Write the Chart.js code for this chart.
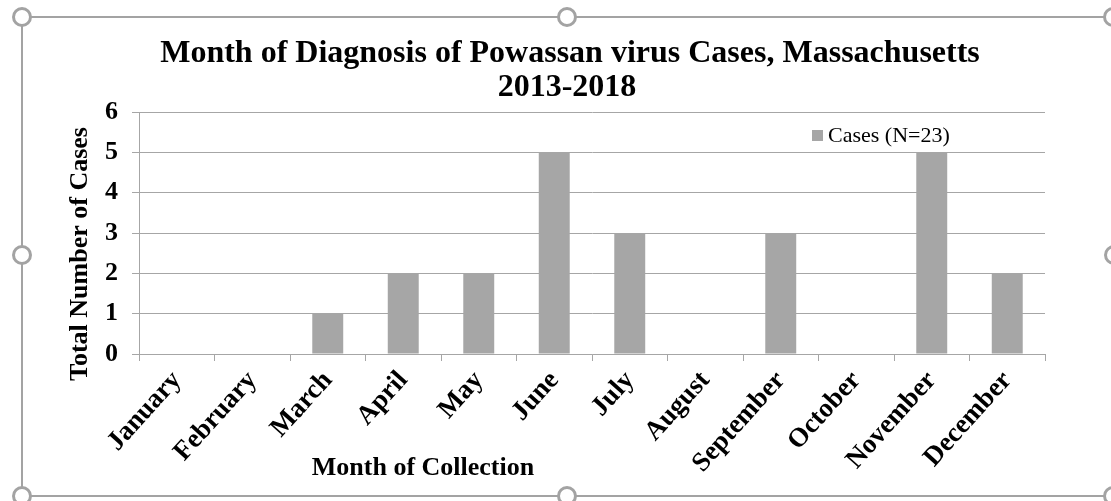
<!DOCTYPE html>
<html>
<head>
<meta charset="utf-8">
<script src="https://cdn.jsdelivr.net/npm/chart.js@4"></script>
<style>
  body { margin: 0; background: #fff; overflow: hidden; }
  .wrap { position: relative; width: 1111px; height: 501px; }
  canvas { position: absolute; left: 0; top: 0; }
  .frame { position: absolute; left: 21px; top: 16px; width: 1120px; height: 481px;
           border: 2px solid #a3a3a3; box-sizing: border-box; pointer-events: none; }
  .handle { position: absolute; width: 14px; height: 14px; border: 3px solid #a3a3a3;
            border-radius: 50%; background: #fff; transform: translate(-50%, -50%); }
</style>
</head>
<body>
<div class="wrap">
  <canvas id="chart" width="1111" height="501"></canvas>
  <div class="frame"></div>
  <div class="handle" style="left:22px;top:17px"></div>
  <div class="handle" style="left:567px;top:17px"></div>
  <div class="handle" style="left:1113px;top:17px"></div>
  <div class="handle" style="left:22px;top:255px"></div>
  <div class="handle" style="left:1114px;top:255px"></div>
  <div class="handle" style="left:22px;top:496px"></div>
  <div class="handle" style="left:567px;top:496px"></div>
  <div class="handle" style="left:1113px;top:496px"></div>
</div>
<script>
const months = ["January", "February", "March", "April", "May", "June", "July",
                "August", "September", "October", "November", "December"];
const cases = [0, 0, 1, 2, 2, 5, 3, 0, 3, 0, 5, 2];
const seriesLabel = "Cases (N=23)";
const titleLines = ["Month of Diagnosis of Powassan virus Cases, Massachusetts", "2013-2018"];
const yTitle = "Total Number of Cases";
const xTitle = "Month of Collection";

const serif = "'Liberation Serif', 'Times New Roman', serif";
const gridColor = "#a6a6a6";
const barColor = "#a6a6a6";

// titles + in-plot legend, placed like the original slide
const extras = {
    id: "extras",
    afterDraw(chart) {
        const ctx = chart.ctx;
        ctx.save();
        ctx.fillStyle = "#000";
        ctx.textAlign = "center";
        ctx.textBaseline = "middle";
        ctx.font = "bold 32px " + serif;
        ctx.fillText(titleLines[0], 570, 54);
        ctx.fillText(titleLines[1], 567, 88);

        ctx.font = "bold 26px " + serif;
        ctx.fillText(xTitle, 423, 468);

        ctx.translate(80, 254);
        ctx.rotate(-Math.PI / 2);
        ctx.fillText(yTitle, 0, 0);
        ctx.restore();

        // legend
        const ds = chart.data.datasets[0];
        ctx.save();
        ctx.fillStyle = ds.backgroundColor;
        ctx.fillRect(812, 130, 11, 11);
        ctx.fillStyle = "#000";
        ctx.font = "22px " + serif;
        ctx.textAlign = "left";
        ctx.textBaseline = "middle";
        ctx.fillText(ds.label, 828, 136);
        ctx.restore();
    }
};

new Chart(document.getElementById("chart"), {
    type: "bar",
    data: {
        labels: months,
        datasets: [{
            label: seriesLabel,
            data: cases,
            backgroundColor: barColor,
            categoryPercentage: 1,
            barPercentage: 0.41
        }]
    },
    options: {
        responsive: false,
        animation: false,
        layout: { padding: { top: 112, right: 66, left: 0, bottom: 0 } },
        plugins: {
            legend: { display: false },
            title: { display: false },
            tooltip: { enabled: false }
        },
        scales: {
            x: {
                afterFit: (s) => { s.height = 147; },
                grid: { display: true, drawOnChartArea: false, offset: true, color: gridColor, tickLength: 7 },
                border: { color: gridColor },
                ticks: {
                    color: "#000",
                    font: { family: serif, size: 27, weight: "bold" },
                    minRotation: 48,
                    maxRotation: 48,
                    padding: 4,
                    autoSkip: false
                }
            },
            y: {
                min: 0,
                max: 6,
                afterFit: (s) => { s.width = 139; },
                grid: { color: gridColor, tickLength: 7 },
                border: { color: gridColor },
                ticks: {
                    stepSize: 1,
                    color: "#000",
                    padding: 14,
                    font: { family: serif, size: 26, weight: "bold" }
                }
            }
        }
    },
    plugins: [extras]
});
</script>
</body>
</html>
